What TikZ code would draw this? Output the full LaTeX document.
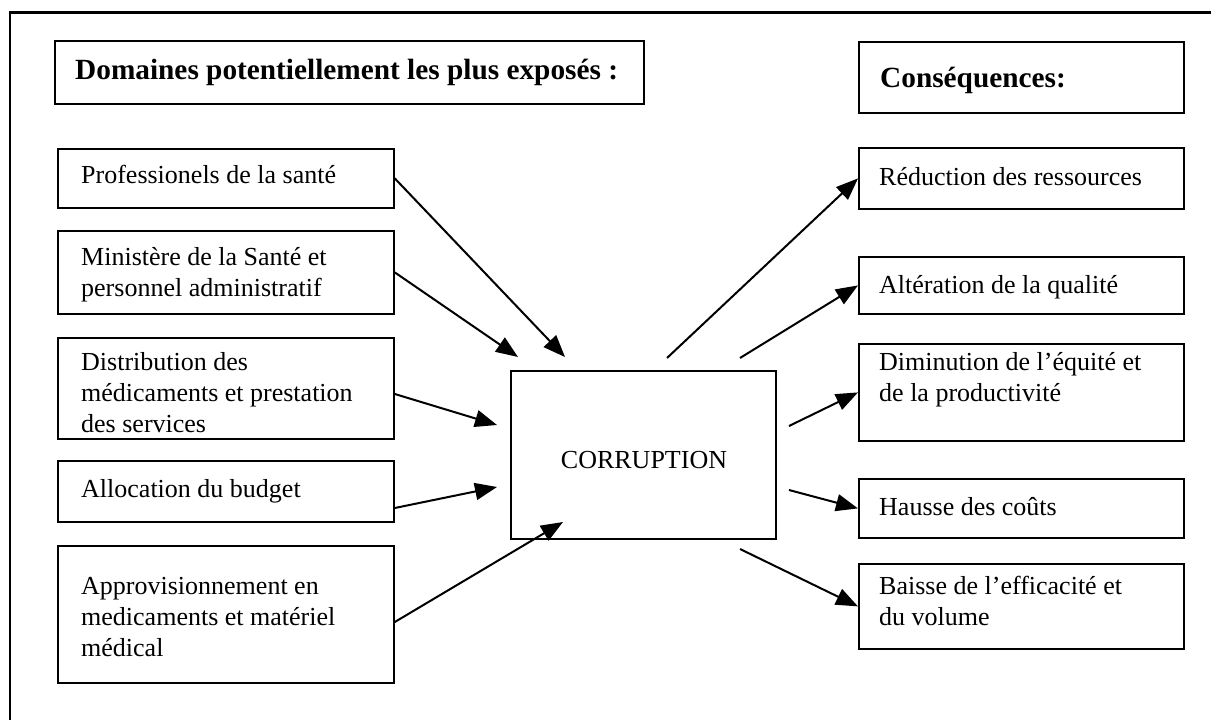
\documentclass[tikz,border=0pt]{standalone}
\usepackage{fontspec}
\setmainfont{Liberation Serif}
\usetikzlibrary{arrows.meta,calc}
\newcommand\mlines[1]{\begin{tabular}[t]{@{}l@{}}#1\end{tabular}}
\begin{document}
\begin{tikzpicture}[x=1pt,y=-1pt,
  box/.style={draw, line width=1.8pt, anchor=north west, inner sep=0pt},
  txt/.style={anchor=base west, inner sep=0pt, font=\fontsize{26}{31}\selectfont},
  head/.style={anchor=base west, inner sep=0pt, font=\fontsize{29.3}{35}\selectfont\bfseries},
  arr/.style={line width=2pt, -{Triangle[length=22pt,width=17pt]}}
]
\useasboundingbox (0,0) rectangle (1211,720);
% outer frame
\draw[line width=2.5pt] (10,722) -- (10,12.7) -- (1212,12.7);

% headings
\node[box, minimum width=589pt, minimum height=63pt] (h1) at (54,40) {};
\node[head] (h1t) at (75,79) {Domaines potentiellement les plus exposés :};
\node[box, minimum width=325pt, minimum height=71pt] (h2) at (858,41) {};
\node[head] (h2t) at (880,87) {Conséquences:};

% left boxes
\node[box, minimum width=336pt, minimum height=59pt] (l1) at (57,148) {};
\node[txt] (l1t) at (81,183) {Professionels de la santé};
\node[box, minimum width=336pt, minimum height=83pt] (l2) at (57,230) {};
\node[txt] (l2t) at (81,265) {\mlines{Ministère de la Santé et\\personnel administratif}};
\node[box, minimum width=336pt, minimum height=101pt] (l3) at (57,337) {};
\node[txt] (l3t) at (81,370) {\mlines{Distribution des\\médicaments et prestation\\des services}};
\node[box, minimum width=336pt, minimum height=61pt] (l4) at (57,460) {};
\node[txt] (l4t) at (81,497) {Allocation du budget};
\node[box, minimum width=336pt, minimum height=137pt] (l5) at (57,545) {};
\node[txt] (l5t) at (81,594) {\mlines{Approvisionnement en\\medicaments et matériel\\médical}};

% centre
\node[box, minimum width=265pt, minimum height=168pt] (c) at (510,370) {};
\node[anchor=base, inner sep=0pt, font=\fontsize{26}{31}\selectfont] (ct) at (644,468) {CORRUPTION};

% right boxes
\node[box, minimum width=325pt, minimum height=61pt] (r1) at (858,147) {};
\node[txt] (r1t) at (879,185) {Réduction des ressources};
\node[box, minimum width=325pt, minimum height=57pt] (r2) at (858,256) {};
\node[txt] (r2t) at (879,293) {Altération de la qualité};
\node[box, minimum width=325pt, minimum height=97pt] (r3) at (858,343) {};
\node[txt] (r3t) at (879,370) {\mlines{Diminution de l’équité et\\de la productivité}};
\node[box, minimum width=325pt, minimum height=59pt] (r4) at (858,478) {};
\node[txt] (r4t) at (879,515) {Hausse des coûts};
\node[box, minimum width=325pt, minimum height=85pt] (r5) at (858,563) {};
\node[txt] (r5t) at (879,594) {\mlines{Baisse de l’efficacité et\\du volume}};

% free ends
\coordinate (a1) at (565,357);
\coordinate (a2) at (518,357);
\coordinate (a3) at (497,425);
\coordinate (a4) at (497,487);
\coordinate (a5) at (563,522);
\coordinate (b1) at (667,358);
\coordinate (b2) at (740,358);
\coordinate (b3) at (789,426);
\coordinate (b4) at (789,490);
\coordinate (b5) at (740,549);

\draw[arr] (l1.east) -- (a1);
\draw[arr] (l2.east) -- (a2);
\draw[arr] ([yshift=-57pt]l3.north east) -- (a3);
\draw[arr] ([yshift=-48pt]l4.north east) -- (a4);
\draw[arr] ([yshift=-77pt]l5.north east) -- (a5);

\draw[arr] (b1) -- (r1.west);
\draw[arr] (b2) -- (r2.west);
\draw[arr] (b3) -- (r3.west);
\draw[arr] (b4) -- (r4.west);
\draw[arr] (b5) -- (r5.west);
\end{tikzpicture}
\end{document}
